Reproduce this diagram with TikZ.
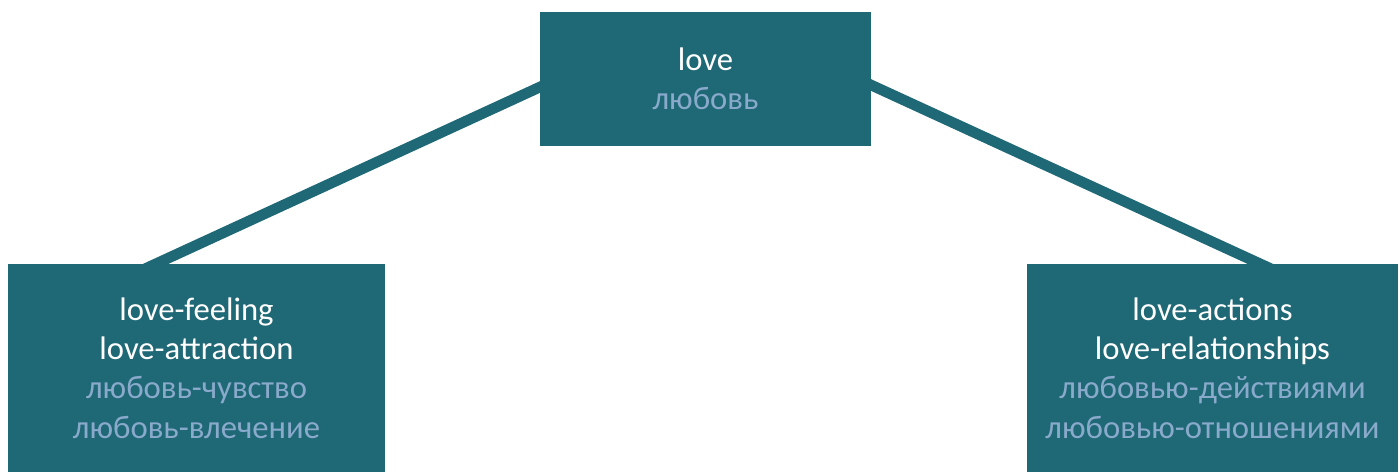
\documentclass[tikz,border=0pt]{standalone}
\usepackage{fontspec}
\setmainfont{Carlito}
\usetikzlibrary{backgrounds}
\definecolor{boxteal}{HTML}{1F6876}
\definecolor{rulight}{HTML}{8AAACC}
\begin{document}
\begin{tikzpicture}[x=0.75pt,y=-0.75pt,
  concept/.style={fill=boxteal, draw=none, inner sep=0pt, outer sep=0pt,
    align=center, text=white, font=\fontsize{24.5}{29.5}\selectfont},
  link/.style={draw=boxteal, line width=8pt,
    shorten <=-12pt, shorten >=-12pt}]
\useasboundingbox (0,0) rectangle (1400,472);
% concept boxes
\node[concept, minimum width=248.25pt, minimum height=100.5pt] (top) at (705.5,79)
  {love\\\textcolor{rulight}{любовь}};
\node[concept, minimum width=282.75pt, minimum height=156pt] (left) at (196.5,368)
  {love-feeling\\love-attraction\\\textcolor{rulight}{любовь-чувство}\\\textcolor{rulight}{любовь-влечение}};
\node[concept, minimum width=278.25pt, minimum height=156pt] (right) at (1212.5,368)
  {love-actions\\love-relationships\\\textcolor{rulight}{любовью-действиями}\\\textcolor{rulight}{любовью-отношениями}};
% connectors behind the boxes
\begin{scope}[on background layer]
  \draw[link] ([yshift=-6pt]top.west) -- ([xshift=-30.75pt]left.north);
  \draw[link] ([yshift=-4.5pt]top.east) -- ([xshift=36pt]right.north);
\end{scope}
\end{tikzpicture}
\end{document}
